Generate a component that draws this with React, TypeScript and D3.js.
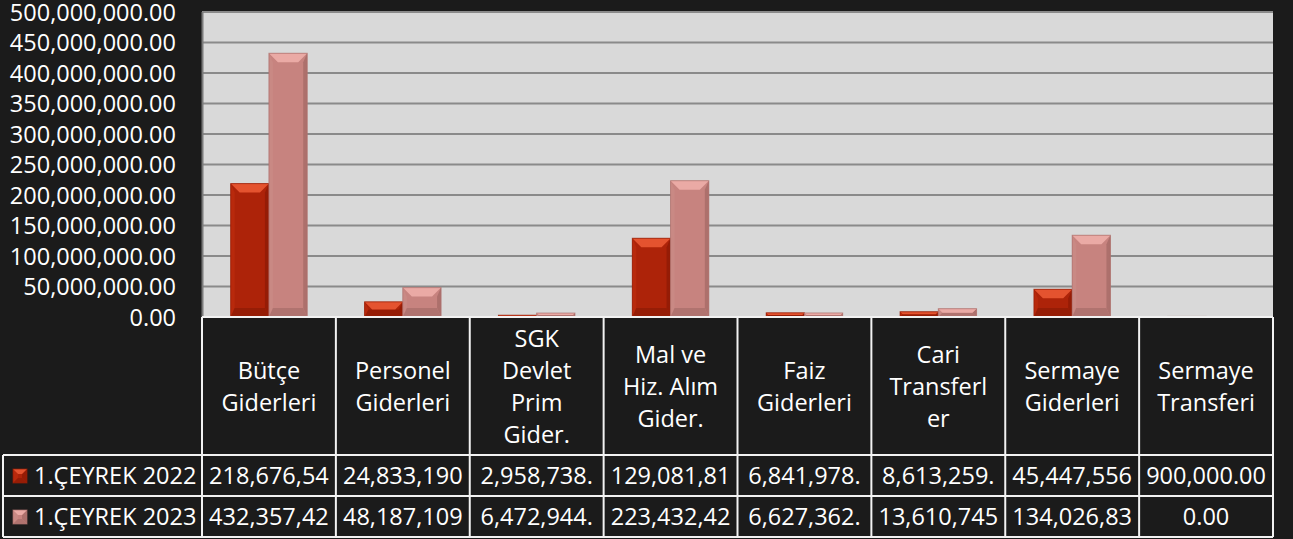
import React from "react";
import * as d3 from "d3";

const categories: string[][] = [
  ["Bütçe", "Giderleri"],
  ["Personel", "Giderleri"],
  ["SGK", "Devlet", "Prim", "Gider."],
  ["Mal ve", "Hiz. Alım", "Gider."],
  ["Faiz", "Giderleri"],
  ["Cari", "Transferl", "er"],
  ["Sermaye", "Giderleri"],
  ["Sermaye", "Transferi"],
];
const seriesNames = ["1.ÇEYREK 2022", "1.ÇEYREK 2023"];
const values2022 = [218676540, 24833190, 2958738, 129081810, 6841978, 8613259, 45447556, 900000];
const values2023 = [432357420, 48187109, 6472944, 223432420, 6627362, 13610745, 134026830, 0];
const yTicks = [0, 50e6, 100e6, 150e6, 200e6, 250e6, 300e6, 350e6, 400e6, 450e6, 500e6];

const W = 1293;
const H = 539;
const BG = "#1b1b1b";
const FONT = "'Open Sans', sans-serif";
const FS = 23.5;

const palettes = [
  { face: "#ad2309", top: "#e4532f", left: "#b8290c", right: "#951c06", bottom: "#961d06" },
  { face: "#c7837f", top: "#eaaaa5", left: "#c98984", right: "#ad706c", bottom: "#b0736f" },
];

let ctx: CanvasRenderingContext2D | null = null;
function measure(s: string): number {
  if (!ctx) {
    const c = document.createElement("canvas");
    ctx = c.getContext("2d");
  }
  if (!ctx) return s.length * FS * 0.55;
  ctx.font = `${FS}px 'Open Sans'`;
  return ctx.measureText(s).width;
}
function fitText(s: string, maxW: number): string {
  let t = s;
  while (t.length > 0 && measure(t) > maxW) t = t.slice(0, -1);
  return t;
}

function Bevel({ x, y, w, h, p, dmax, side }: { x: number; y: number; w: number; h: number; p: typeof palettes[0]; dmax: number; side: number }) {
  if (h <= 0) return null;
  const d = Math.min(dmax, h / 2, w / 2);
  const s = Math.min(side, d);
  const pts = (a: number[][]) => a.map((q) => q.join(",")).join(" ");
  return (
    <g>
      <rect x={x} y={y} width={w} height={h} fill={p.face} />
      <polygon points={pts([[x, y], [x + s, y + d], [x + s, y + h - d], [x, y + h]])} fill={p.left} />
      <polygon points={pts([[x + w, y], [x + w - s, y + d], [x + w - s, y + h - d], [x + w, y + h]])} fill={p.right} />
      <polygon points={pts([[x, y + h], [x + s, y + h - d], [x + w - s, y + h - d], [x + w, y + h]])} fill={p.bottom} />
      <polygon points={pts([[x, y], [x + w, y], [x + w - d, y + d], [x + d, y + d]])} fill={p.top} />
      <rect x={x} y={y} width={w} height={h} fill="none" stroke={p.right} strokeWidth={1} opacity={0.7} />
    </g>
  );
}

export default function App() {
  const plotL = 202, plotR = 1273, plotT = 12, plotB = 317;
  const headB = 455, row1B = 496, row2B = 537, tableL = 3;
  const y = d3.scaleLinear().domain([0, 500e6]).range([plotB, plotT]);
  const catIdx = categories.map((_, i) => String(i));
  const x = d3.scaleBand().domain(catIdx).range([plotL, plotR]).paddingInner(0).paddingOuter(0);
  const xs = d3.scaleBand().domain(["0", "1"]).range([0, x.bandwidth()]).paddingInner(0).paddingOuter(0.75);
  const fmt = d3.format(",.2f");
  const series = [values2022, values2023];
  const rowsB = [row1B, row2B];
  const rowsT = [headB, row1B];
  const headCenter = (plotB + headB) / 2;

  return (
    <div style={{ position: "fixed", left: 0, top: 0, width: W, height: H, background: BG, overflow: "hidden" }}>
      <svg width={W} height={H} style={{ display: "block" }} fontFamily={FONT}>
        <rect x={0} y={0} width={W} height={H} fill={BG} />
        <rect x={plotL} y={plotT} width={plotR - plotL} height={plotB - plotT} fill="#d9d9d9" />
        {yTicks.map((t) => (
          <g key={t}>
            {t > 0 && <line x1={plotL} x2={plotR} y1={y(t)} y2={y(t)} stroke="#8a8a8a" strokeWidth={2} />}
            <text x={176} y={y(t) + 8.5} textAnchor="end" fill="#ffffff" fontSize={FS}>
              {fmt(t)}
            </text>
          </g>
        ))}
        <line x1={plotL + 0.5} x2={plotL + 0.5} y1={plotT} y2={plotB} stroke="#7a7a7a" strokeWidth={2} />
        {series.map((vals, si) =>
          vals.map((v, ci) => {
            const bx = (x(String(ci)) as number) + (xs(String(si)) as number);
            const by = y(v);
            return <Bevel key={`${si}-${ci}`} x={bx} y={by} w={xs.bandwidth()} h={plotB - by} p={palettes[si]} dmax={9} side={4} />;
          })
        )}
        <rect x={plotL} y={plotB} width={plotR - plotL} height={headB - plotB} fill={BG} />
        {categories.map((lines, ci) => {
          const cx = (x(String(ci)) as number) + x.bandwidth() / 2;
          const n = lines.length;
          return (
            <g key={ci}>
              {lines.map((ln, li) => (
                <text key={li} x={cx} y={headCenter - (n - 1) * 16 + li * 32 + 8.5} textAnchor="middle" fill="#ffffff" fontSize={FS}>
                  {ln}
                </text>
              ))}
            </g>
          );
        })}
        {series.map((vals, si) => {
          const rT = rowsT[si], rB = rowsB[si];
          const ty = rB - 12;
          return (
            <g key={si}>
              <Bevel x={13} y={(rT + rB) / 2 - 6.5} w={14} h={14} p={palettes[si]} dmax={5} side={5} />
              <text x={34} y={ty} fill="#ffffff" fontSize={FS}>
                {seriesNames[si]}
              </text>
              {vals.map((v, ci) => {
                const cx = (x(String(ci)) as number) + x.bandwidth() / 2;
                return (
                  <text key={ci} x={cx} y={ty} textAnchor="middle" fill="#ffffff" fontSize={FS}>
                    {fitText(fmt(v), x.bandwidth() - 12)}
                  </text>
                );
              })}
            </g>
          );
        })}
        <g stroke="#f2f2f2" strokeWidth={2}>
          <line x1={plotL} x2={plotR} y1={plotB} y2={plotB} />
          {[headB, row1B, row2B].map((yy) => (
            <line key={yy} x1={tableL} x2={plotR} y1={yy} y2={yy} />
          ))}
          <line x1={tableL} x2={tableL} y1={headB} y2={row2B} />
          {d3.range(categories.length + 1).map((i) => {
            const xx = i < categories.length ? (x(String(i)) as number) : plotR;
            return <line key={i} x1={xx} x2={xx} y1={plotB} y2={row2B} />;
          })}
        </g>
      </svg>
    </div>
  );
}
